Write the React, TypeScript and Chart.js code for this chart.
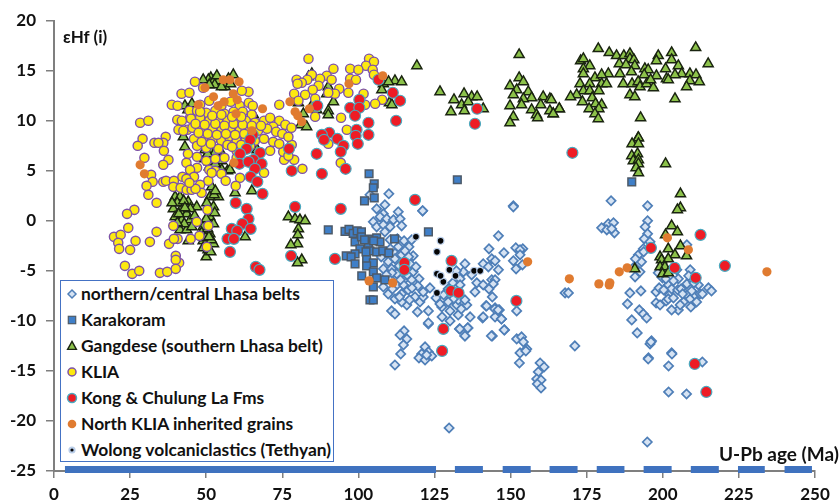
import React, { useEffect, useRef } from "react";
import { Chart, registerables } from "chart.js";

Chart.register(...registerables);

type P = [number, number];

const xTicks = [0, 25, 50, 75, 100, 125, 150, 175, 200, 225, 250];
const legendLabels = [
  "northern/central Lhasa belts",
  "Karakoram",
  "Gangdese (southern Lhasa belt)",
  "KLIA",
  "Kong & Chulung La Fms",
  "North KLIA inherited grains",
  "Wolong volcaniclastics (Tethyan)",
];
const yTitle = "εHf (i)";
const xTitle = "U-Pb age (Ma)";

const lhasa: P[] = [
  [121.1,1],[108.7,1.6],[110,2.7],[103.8,2.6],[106,1.2],[108.2,0.7],[113.1,0.9],[104.9,-0.1],[107.1,0.4],[109.3,0.2],[111.5,0.1],[113.7,0.2],[106,-0.6],[108.2,-0.4],[110.4,-0.6],[114.2,-0.5],[108.7,-1.1],[110.4,-1.9],[113.1,-2.6],[116.6,-2.6],[111.5,-3.1],[108.2,-4.8],[109.8,-4.1],[112,-3.8],[114.2,-3.4],[118,-3.5],[117,-4.3],[118,-5.1],[119.9,-5.8],[110.9,-4.8],[112.6,-5.3],[115.3,-5.8],[117.5,-5.9],[108.2,-6.6],[109.8,-7.3],[112,-7.8],[114.2,-7.3],[116.4,-6.9],[118.6,-7.6],[115.9,-8.4],[114.2,-8.1],[112.6,-6.4],[110.4,-5.8],[114.8,-6.4],[110.9,-9],[112,-9.3],[119.4,-9.1],[120.2,-8.1],[121.3,-7.6],[123,-9],[123.5,-6.7],[121.3,-7.1],[123,-10.3],[115,-11],[113.7,-11.4],[115.9,-11.8],[114.8,-12.4],[113.9,-13.3],[112,-14.4],[121.9,-12.6],[123,-13.1],[120.8,-13.3],[119.9,-13.7],[121.9,-13.9],[124.1,-13.5],[122.4,-13.4],
  [146,-1.5],[142.9,-2.8],[147.8,-3.2],[150.9,1.5],[151.7,-2.7],[154,-2.8],[153.1,-2.9],[153.1,-3.4],[150.9,-4],[153.9,-4.4],[151.8,-4.8],[135,-4.3],[141,-4.3],[143.8,-3.8],[144.9,-4],[142.7,-4.6],[146,-4.9],[137.2,-5.4],[134.5,-5.1],[133.4,-5.8],[138.9,-6.2],[143.8,-5.9],[144.9,-5.9],[141,-6.4],[144.3,-6.3],[142.9,-6.8],[138.3,-7.1],[144,-7.6],[133.4,-6.4],[135.6,-8.4],[136.7,-9.6],[132.8,-9.4],[132.3,-8.4],[130.1,-9],[127.4,-8.6],[126.8,-8.3],[130.1,-10],[133.2,-10.8],[136,-10.7],[135,-11.5],[140.8,-9.7],[141.9,-8.5],[144.9,-8.7],[146.3,-8.9],[144.9,-9.6],[147,-9.8],[148,-10.9],[144,-11.5],[152,-9],
  [152,-11.8],[153.6,-11.6],[154.2,-12.1],[155.3,-12.8],[153.1,-13.2],[155,-13],[152.9,-14.2],[159.7,-14.2],[161,-14.6],[159.1,-15.1],[158.6,-15.8],[160,-15.9],[158.8,-16.3],[160,-16.7],[132.8,-7.9],[131.2,-7.8],[135,-7.9],[171.1,-12.5],[129.8,-20.7],[194.9,-22.1],[167.9,-7.2],[169,-7.2],[150.9,1.4],[121.1,1],
  [183,2],[195,1.5],[179.9,-0.7],[182.1,-0.3],[183.8,-0.2],[181.6,-0.9],[184.1,-1.2],[183.2,-0.8],[195,0],[194.2,-0.6],[195,-1.3],[193.9,-1.8],[193.6,-2.8],[192,-3.4],[193,-4.1],[190.9,-5.6],[192.5,-5.1],[195.8,-2.1],[192.8,-7],[189.2,-7.2],[188.4,-8.3],[192.3,-8.9],[193.6,-9.3],[194.7,-9.7],[189.8,-9.9],[191.6,-11.2],[196.3,-12],[195.8,-12.3],[195.3,-13.7],[202.9,-13.2],
  [197.8,-7.1],[198.8,-6.7],[197.8,-8.2],[199.1,-8.4],[201.1,-8],[202.2,-7.4],[201.8,-6.4],[202.9,-6.8],[204.9,-6.9],[205.1,-8.9],[202.9,-8.9],[206.8,-8.1],[207.9,-6.3],[207.9,-7.4],[209,-7.8],[210.6,-7.4],[212.2,-7.3],[211.1,-8.1],[209.2,-8.6],[209,-4.9],[211.7,-6.4],[215,-6.7],[216,-7],[213,-7.3],[205.1,-5.8],[204.6,-4.9],[207.9,-2.4],[199.9,-5.7],[201.8,-7.8],[205.7,-8.4],[203,-13.3],[213,-14.1],[195.2,-13.8],[196.1,-12.1],[201.9,-14.5],[201.9,-17.1],[207.8,-17.3],
  [143.7,-11.5],[147.9,-10.9],[141,-9.6],[147,-9.8],[142.1,-8.5],[144.8,-8.8],[145.9,-8.9],[135.9,-10.7],[135,-11.5],[133.3,-10.8],[123,-10.2],
  [107.5,-3.6],[109,-3.2],[110.5,-2.8],[112.8,-1.8],[115,-2],[117.5,-1.9],[115.3,-3],[116.5,-3.6],[113.4,-4.5],[115.5,-4.8],[113.8,-5.9],[111.2,-6.8],[113.5,-7.6],[116.8,-7.9],[119.5,-6.5],[117.6,-6.7],[116,-5.4],[118.9,-4.6],[111,-5.2],[109.2,-5.4],[125.5,-7.7],[128,-7.4],[129.5,-6.8],[131,-6.2],[132.2,-5],[129.5,-8.1],[133.8,-8.8],[127.5,-9.6],
  [198.5,-5.2],[201,-5.8],[203.5,-6],[206,-6.8],[208.5,-5.5],[203.5,-7.7],[206.5,-7.3],[200.3,-6.9],[209.5,-7],[210.2,-6.2],[193.7,-3.1],[191,-3.8],[190.6,-4.6],
];

const karakoram: P[] = [
  [95.6,-1.06],[96.9,-0.86],[98.3,-1.26],[99.6,-1],[101,-1.1],[103.3,-1.83],[106,-1.7],[107.1,-2.1],[98.9,-2.1],[101,-1.6],[103.3,-2.43],[100.5,-2.8],[103.8,-3],[106,-3.1],[108,-3],[110,-3.2],[96,-3.5],[98.9,-3.3],[97.6,-3.6],[98.9,-4.3],[102.7,-3.8],[104.9,-4.2],[102.7,-4.5],[104.9,-5.1],[101.1,-5.5],[106,-5.7],[108.7,-5.9],[104.9,-6.6],[103.8,-7.9],[104.9,-7.9],[102,-1.9],[105,-2],[102.5,-3.1],
  [103.5,4.7],[105.2,3.7],[104.9,3.3],[105.2,2.3],[102,2],[90.1,-0.9],[111.9,-1.8],[132.5,4.1],[189.8,3.9],[123,-1.1],
];

const gangdese: P[] = [
  [51.5,14.3],[50.7,14.1],[52.5,14],[54,14],[58.9,14.6],[57.3,14.2],[56.2,13.4],[49,14.1],[43,11.5],[45.3,11.7],[44,11.1],[65.5,10.6],[42.5,8.4],[43,7.4],[49.6,7.1],[51.5,7],[54,7],[49.5,6.2],[52,6.2],[55,6],[51,5.4],[54,5.2],[57,5],[57.8,5.1],[55.1,5.1],[45,5],[65.5,7.7],[66.7,7.1],[65,3],[59.5,2.8],
  [39.8,2.4],[41.4,2.4],[44.1,1.9],[46.9,1.4],[39.2,1.2],[41.4,1],[43.6,0.7],[39.8,0.4],[42,0.1],[44.8,0.1],[41.4,-0.9],[43.6,-0.9],[51.8,3.4],[54,2.4],[51.2,2.4],[50.2,1.8],[52.4,1.4],[51.2,0.4],[52.4,-0.3],[49,-0.6],[51.2,-1.3],[49,-2],[52.4,-2.3],[49,-2.7],[50,-3.6],[44.1,-2],[48.5,-1.2],[62.8,-1.6],
  [40.5,1.8],[42.6,2],[44.8,1.2],[41,0.7],[42.8,-0.3],[45.3,-0.6],[46.2,0.5],[40.5,-0.2],[43,1.3],[38.8,1.8],[50.5,-0.8],[49.8,-1.7],[51.7,-1.9],[50.6,-2.9],[51.5,-3.1],[52.8,0.8],[50,0.2],[52.6,2.6],[53,3],[50.9,-1.6],[51,5.9],[53,5.7],[52.8,6.8],[50.5,6.7],[55.5,6.5],[52.8,13.6],[55,13.4],[51,13.6],[58,13.7],[53.5,14.5],
  [77,0.4],[79.2,0.2],[80.8,0.1],[82.5,0],[80.3,-0.8],[80.1,-1.4],[80,-2.3],[77.8,-2.4],[81.4,-3.9],[80,-4.2],
  [83.6,14.4],[84.7,14.7],[90.1,13.4],[89.6,12.7],[91.8,11.9],[81.9,10.7],[81,9.6],[83,9.4],[90.1,11],[90.1,10.6],[119.2,15.5],[108.2,13.7],[112,14],[114.2,13.9],[109.9,13.9],[107.7,13.1],[110.2,11.8],[111,11.6],[85.2,11.8],[86.3,11.1],[80.3,11.8],
  [126.8,12.9],[131.4,12.1],[134.7,12.7],[137.2,12.4],[139,12.4],[133.9,11.6],[141,11.2],[130.4,10.9],[134.8,11],[136.1,11.9],
  [152.8,16.6],[152.8,14.3],[154.2,13.9],[149.8,13.5],[152,13.1],[150.9,12.6],[155.8,12.9],[156.9,12.3],[154.2,12.2],[153.6,11.6],[160.7,12.4],[162.9,12.2],[159.9,11.6],[149.8,11.5],[156.9,11.1],[166,11.2],[162.9,11],[164,10.7],[158.5,10.6],[158.9,10.3],[150.9,10.4],[149.8,9.8],
  [178.8,17.2],[182.4,16.8],[184.8,16.5],[187.2,16.5],[189.2,16.7],[189.2,16.2],[190.5,16.1],[173,16],[173.9,16.2],[176,15.5],[173.9,15.2],[173.9,14.7],[185.7,15.7],[187.9,15.6],[190.8,15.5],[189.7,14.9],[194.1,15.2],[195.2,15.1],[193.9,14.6],[198.5,16.5],[197.9,16],[202.9,16.8],[202.9,16.1],[205.1,15.5],[200.9,15.2],[197.9,14.5],[206.2,14.7],[204,14.6],[210.8,17.3],[214.9,15.7],[208.9,14.7],[210.9,14.6],[208.9,14],[212,13.9],[207.8,13.4],[201.2,14.2],[201.8,14.1],[182.1,14.7],[185.9,14.7],[177.7,14.3],[179.9,14.6],[179.9,13.7],[176,13.7],[172.8,13.7],[173.9,13],[171.7,12.6],[169.7,12.4],[176,13],[179,13],[181.5,13.7],[187,13.7],[189.9,13.7],[191.9,13.9],[192.5,13.4],[194.7,13.7],[196.9,13.3],[196,14.1],[176.8,12.3],[173.6,11.9],[177.9,11.7],[175.8,11.2],[179.9,11.6],[179,11.2],[177.7,10.7],[178.8,10.2],[189.2,12.6],[190.8,12.4],[204,12.2],[192.7,10.3],[191.9,8.3],[163.4,12.1],[166,11.2],[164,10.7],
  [192,8.3],[189.9,7.7],[192,7.7],[191.7,6.7],[189.8,6.5],[190.3,6],[192,6.1],[192,5.7],[191.2,5.3],[192,4.8],[200.9,5.7],
  [205.8,2.7],[205.8,1.3],[204.8,1.1],[202.9,-0.5],[204.8,-1.1],[200.9,-1.4],[205.8,-2.5],[201.8,-2.8],[204,-3.4],[207.8,-3.5],[199.1,-3.6],[199.6,-3.9],[201.8,-3.8],[199.1,-4.6],[200.7,-4.6],[199.9,-5.3],[201.8,-5.2],[190.8,-4.8],
];

const klia: P[] = [
  [83.6,16.2],[103.5,16.2],[105.1,15.9],[102.5,15.5],[97.3,15.2],[100,15.1],[104.7,15.1],[91.8,15.2],[105.1,14.6],[97.3,14.2],[99.2,14.1],[89.6,14.5],[87.4,14.2],[91.2,14.1],[84.7,14.6],[83.2,14.1],[79.7,14.1],[81.4,13.8],[80,13.7],[86.9,13.5],[93.7,13.2],[92.3,12.7],[96.7,12.8],[90.1,12.8],[85,13.1],[82.5,12.6],[78.9,12.7],[80.3,12],[85.8,12.2],[101.7,12.7],[107.8,12.1],[105.5,11.7],[74,11.6],[102.2,11.6],[94.3,10.3],[85.8,10.4],[96.2,9.1],[90.1,7.7],[94.2,5.8],[81.6,5.2],[75.6,6.1],[78.9,6.1],[75.3,6.9],[78.1,7.6],[77,6.5],
  [46.3,13.9],[49,13.3],[41.9,12.7],[44.5,12.8],[63.9,12.9],[61.7,13],[38.7,11.6],[40.6,11.5],[40.5,10.1],[28.3,9.8],[31,10],[44.7,10.3],[40.9,9.1],[43.8,9.1],[29.1,8.2],[36.7,8.4],[27.5,7.5],[33,7.8],[35.9,7.8],[34.3,7.8],[36.1,7],[29.7,6.3],[37.6,6.1],[35.9,5.6],[31.9,4.6],[32.4,3.9],[30.4,3.5],[31,2.6],[35.9,3.9],[36.8,4],[39.4,4],[42.2,4.4],[39.2,3.4],[41.6,3.3],[43.6,3.1],[45.2,3.1],[33.7,1.8],[26.4,1.1],[24,0.7],[24.4,-0.7],[19.7,-1.6],[21.9,-1.4],[21.1,-2.2],[21.4,-2.8],[26.8,-2],[31.5,-2.1],[33.7,-1.1],[25,-2.9],[37.8,-2.3],[40.6,-1.8],[39.4,-1.8],[39.2,-0.5],[46.9,-0.1],[50.4,1.1],[50.7,-0.5],[44.9,-1.8],[47.8,-1.5],[50.2,-2.6],[40,-3.5],[41.1,-4.2],[40,-3.9],[23.3,-4.5],[25.7,-5.3],[28,-5],[34.8,-5.2],[37.2,-5.1],[40,-4.8],
  [48,11.6],[51,12],[55,11.5],[58,11.9],[61,11.5],[64,11.8],[65.3,11.5],[44.5,11],[47,11],[50,10.8],[53,11],[56,10.7],[59,10.9],[62,10.9],[65,10.6],[42,10],[45,10.2],[48,10.3],[51,10],[54,10.2],[57,10],[60,10.2],[63,10],[66,9.8],[69,10],[71,10.3],[74,10],[76,9.6],[78,9.3],[72,9.4],[42.5,9],[45.5,9.3],[48.5,9],[52,9.2],[55,9],[58,9.3],[61,9],[64,9.1],[67,9],[70,9.2],[73,8.9],[75,8.7],[77,8.4],[46,8.2],[49,8.3],[52,8.1],[55,8],[57.5,8.4],[60,8],[63,8.2],[66,8],[69,8.2],[72,7.9],[74,7.7],[47,7.5],[50,7.3],[54,7.2],[57,7.6],[60,7],[63,7.2],[71,7],[44,6.7],[47,6.4],[50,6],[53,6.2],[56,6.3],[60,6.3],[43.5,5.8],[47,5.3],[51,5.1],[53,5],[55,4.7],[69,4.8],[61.1,4.3],[56.4,4],[59.7,3.5],[50.7,4],[48,3.6],[48.5,2.8],[51.8,4.8],[44.7,5.1],
  [46.5,9.7],[49.5,9.6],[53,9.7],[56,9.5],[59,9.7],[62,9.6],[65,9.5],[68,9.5],[47.5,8.8],[50.5,8.7],[53.5,8.6],[56.5,8.7],[59.5,8.6],[62.5,8.7],[48,10.9],[52,10.5],[55,10.6],[58.5,10.4],[61.5,10.4],[48.5,7.9],[51.5,7.7],[58.5,7.4],[61.5,7.6],[64.5,7.5],[46,4.4],[43.5,4.2],[46.5,3.2],[44.5,3.8],
];

const kong: P[] = [
  [106.6,14.1],[111.3,12.8],[113.7,12],[100.3,12.1],[97.3,11.3],[100.3,11.3],[98.9,10.5],[86.5,11.5],[112.4,10],[103.3,9.8],[99.4,9.1],[90.4,8.8],[88,8.6],[88.7,8.1],[93.1,8.2],[99.1,8.5],[103.3,8.6],[99.8,7.7],[95.1,7.5],[94.2,6.9],[77.2,7.2],[86.3,6.7],[78.1,5],[88,4.7],[95.8,5.2],
  [65.3,8.6],[64.4,8.1],[63.3,7.2],[61.1,6.7],[67.7,6.8],[65.5,6.1],[60.9,5.7],[63.9,5.9],[68.2,5.7],[66,5.2],[64.6,4.4],[66.8,3.9],[68.5,2.7],
  [59.7,1.8],[63.3,1.2],[79.2,1.4],[94.2,1.2],[118.6,2.1],[63.9,0.2],[61.9,-0.3],[58.4,-0.8],[64.6,-0.8],[60.2,-1],[57,-1.8],[59.1,-1.8],[57.8,-3.1],[77.9,-3.5],[92.3,-3.8],[66.3,-4.6],[67.5,-4.9],[115.1,-4.2],[115.1,-4.9],
  [139,11.2],[138.3,9.7],[170.3,6.8],[196.1,-2.7],[212.4,-1.4],[203.9,-4.7],[220.4,-4.5],[210.8,-5.7],[130.6,-4],[130.4,-7],[132.9,-7.2],[151.9,-8],[127.9,-10.8],[127.5,-13],[210.5,-14.3],[214.3,-17.1],
];

const northKlia: P[] = [
  [28.3,5.6],[29.7,4.7],[49.6,13.3],[55.6,14.1],[57.8,14.1],[60.8,13.9],[58.9,12.7],[60.2,12.1],[52.4,12.4],[47.4,11.6],[53.9,11.5],[55.9,11.9],[59.8,10.7],[68.5,11.2],[65,9],[59.1,5.8],[77.5,11.9],[79.2,10.9],[80.1,10.5],[81.4,9.9],[83.9,11.2],[96.9,13.7],[108,14.5],
  [103.5,-6],[111.3,-6.2],[155.6,-4.1],[201.5,-1.7],[208.4,-2.9],[188.3,-4.7],[185.7,-5.1],[234.2,-5.1],[169.3,-5.8],[179,-6.3],[182.4,-6.4],[182.6,-6.2],
];

const wolong: P[] = [
  [118.9,-1.6],[127,-2],[125.8,-3.1],[125.8,-5.3],[129.9,-4.9],[131.9,-5.5],[127.9,-6.1],[125.8,-7.2],[138,-5],[140,-5],[127,-5.5],
];

const barStarts = [3.6, 131.7, 147.4, 162.8, 178.3, 193.7, 209.2, 224.7, 240];
const barEnds = [125.5, 140.9, 156.6, 172, 187.4, 202.9, 218.4, 233.5, 249];
const barLevel = -24.85;

const toXY = (pts: P[]) => pts.map(([x, y]) => ({ x, y }));

const FONT = "Lato, 'Noto Sans', sans-serif";
const AXIS = "#7f7f7f";

const styles = {
  lhasa: { pointStyle: "rectRot", pointRadius: 4.6, backgroundColor: "#d6e3f3", borderColor: "#4f7fb8", pointBorderWidth: 1.7 },
  karakoram: { pointStyle: "rect", pointRadius: 5.4, backgroundColor: "#3f7fc8", borderColor: "#4d5a68", pointBorderWidth: 1.5 },
  gangdese: { pointStyle: "triangle", pointRadius: 5.8, backgroundColor: "#8cc24a", borderColor: "#1a2410", pointBorderWidth: 1.5 },
  klia: { pointStyle: "circle", pointRadius: 4.6, backgroundColor: "#fde910", borderColor: "#7d52a8", pointBorderWidth: 1.4 },
  kong: { pointStyle: "circle", pointRadius: 5.5, backgroundColor: "#ee1c25", borderColor: "#4aa9bf", pointBorderWidth: 1.2 },
  north: { pointStyle: "circle", pointRadius: 4.6, backgroundColor: "#e07b30", borderColor: "#e07b30", pointBorderWidth: 0 },
  wolong: { pointStyle: "circle", pointRadius: 3.4, backgroundColor: "#050505", borderColor: "#b9cde8", pointBorderWidth: 1.2 },
};

function Swatch({ kind }: { kind: number }) {
  const box = { width: 16, height: 16, viewBox: "-8 -8 16 16", style: { position: "absolute" as const, left: 3, top: 5 } };
  if (kind === 0) return <svg {...box}><path d="M0-4 4 0 0 4-4 0Z" fill="#d6e3f3" stroke="#4f7fb8" strokeWidth={1.5} /></svg>;
  if (kind === 1) return <svg {...box}><rect x={-3.7} y={-3.7} width={7.4} height={7.4} fill="#3f7fc8" stroke="#4d5a68" strokeWidth={1.2} /></svg>;
  if (kind === 2) return <svg {...box}><path d="M0-4.6 4.4 3.4-4.4 3.4Z" fill="#8cc24a" stroke="#1a2410" strokeWidth={1.4} /></svg>;
  if (kind === 3) return <svg {...box}><circle r={4} fill="#fde910" stroke="#7d52a8" strokeWidth={1.5} /></svg>;
  if (kind === 4) return <svg {...box}><circle r={4.5} fill="#ee1c25" stroke="#4aa9bf" strokeWidth={1.5} /></svg>;
  if (kind === 5) return <svg {...box}><circle r={4.3} fill="#e07b30" /></svg>;
  return <svg {...box}><circle r={2.6} fill="#050505" stroke="#b9cde8" strokeWidth={2} /></svg>;
}

export default function App() {
  const ref = useRef<HTMLCanvasElement>(null);

  useEffect(() => {
    document.body.style.margin = "0";
    const barData: { x: number; y: number | null }[] = [];
    barStarts.forEach((s, i) => {
      barData.push({ x: s, y: barLevel }, { x: barEnds[i], y: barLevel }, { x: barEnds[i], y: null });
    });

    const chart = new Chart(ref.current!, {
      type: "scatter",
      data: {
        datasets: [
          { label: legendLabels[0], data: toXY(lhasa), order: 7, ...styles.lhasa },
          { label: legendLabels[1], data: toXY(karakoram), order: 6, ...styles.karakoram },
          { label: legendLabels[2], data: toXY(gangdese), order: 5, ...styles.gangdese },
          { label: legendLabels[3], data: toXY(klia), order: 4, ...styles.klia },
          { label: legendLabels[4], data: toXY(kong), order: 3, ...styles.kong },
          { label: legendLabels[5], data: toXY(northKlia), order: 2, ...styles.north },
          { label: legendLabels[6], data: toXY(wolong), order: 1, ...styles.wolong },
          {
            label: "age bar",
            data: barData,
            order: 8,
            showLine: true,
            spanGaps: false,
            pointRadius: 0,
            borderColor: "#3f72bf",
            borderWidth: 7,
            borderCapStyle: "butt",
            clip: false,
          },
        ] as any,
      },
      options: {
        responsive: false,
        animation: false,
        devicePixelRatio: 1,
        layout: { padding: { top: 20.7, right: 24, left: 0, bottom: 0 } },
        plugins: { legend: { display: false }, tooltip: { enabled: false }, title: { display: false } },
        scales: {
          x: {
            type: "linear",
            min: 0,
            max: 250,
            afterFit: (s: any) => { s.height = 33; },
            afterBuildTicks: (s: any) => { s.ticks = xTicks.map((value) => ({ value })); },
            grid: { drawOnChartArea: false, drawTicks: true, tickLength: 7, color: AXIS, lineWidth: 1.5 },
            border: { color: AXIS, width: 2 },
            ticks: { autoSkip: false, maxRotation: 0, padding: 6, color: "#111", font: { family: FONT, size: 17, weight: "bold" } },
          },
          y: {
            type: "linear",
            min: -25,
            max: 20,
            afterFit: (s: any) => { s.width = 54; },
            grid: { drawOnChartArea: false, drawTicks: true, tickLength: 8, color: AXIS, lineWidth: 1.5 },
            border: { color: AXIS, width: 2 },
            ticks: { stepSize: 5, autoSkip: false, padding: 10, color: "#111", font: { family: FONT, size: 17, weight: "bold" } },
          },
        },
      } as any,
    });
    return () => chart.destroy();
  }, []);

  const label: React.CSSProperties = { position: "absolute", fontFamily: FONT, fontWeight: 700, color: "#111", whiteSpace: "nowrap", lineHeight: "18px" };

  return (
    <div style={{ position: "relative", width: 839, height: 504, background: "#fff", overflow: "hidden" }}>
      <canvas ref={ref} width={839} height={504} style={{ display: "block" }} />
      <div style={{ ...label, left: 63, top: 28, fontSize: 17 }}>{yTitle}</div>
      <div style={{ ...label, left: 719, top: 445, fontSize: 19 }}>{xTitle}</div>
      <div style={{ position: "absolute", left: 60, top: 280, width: 272, height: 180, background: "#fff", border: "1.5px solid #4472c4" }}>
        {legendLabels.map((t, i) => (
          <div key={t} style={{ position: "absolute", left: 0, top: i * 26, height: 26, width: 270 }}>
            <Swatch kind={i} />
            <span style={{ ...label, left: 20, top: 4, fontSize: 17.4 }}>{t}</span>
          </div>
        ))}
      </div>
    </div>
  );
}
